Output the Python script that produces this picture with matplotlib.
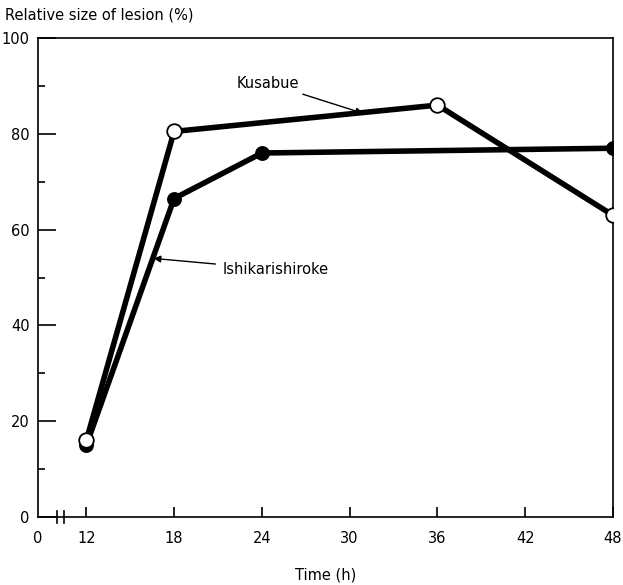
import matplotlib.pyplot as plt
from matplotlib.ticker import FixedLocator

plt.rcParams["font.family"] = ["DejaVu Sans"]

# lesion size over time for the two cultivars
kusabue_hours = [12, 18, 36, 48]
kusabue_size = [16, 80.5, 86, 63]
ishikari_hours = [12, 18, 24, 48]
ishikari_size = [15, 66.5, 76, 77]

x_ticks = [12, 18, 24, 30, 36, 42, 48]
y_major = [0, 20, 40, 60, 80, 100]
y_minor = [10, 30, 50, 70, 90]

# the axis is broken between 0 and 12, so "0" sits just left of 12
X_ZERO = 8.7

fig = plt.figure(figsize=(6.23, 5.85), dpi=100)
ax = fig.add_axes([0.061, 0.116, 0.923, 0.819])

ax.plot(ishikari_hours, ishikari_size, color="black", lw=4, solid_capstyle="round",
        marker="o", ms=9.5, mfc="black", mec="black", mew=1.2, zorder=3)
ax.plot(kusabue_hours, kusabue_size, color="black", lw=4, solid_capstyle="round",
        marker="o", ms=10.5, mfc="white", mec="black", mew=1.3, zorder=4)

ax.set_xlim(X_ZERO, 48)
ax.set_ylim(0, 100)

ax.set_xticks([X_ZERO] + x_ticks)
ax.set_xticklabels(["0"] + [str(t) for t in x_ticks], fontsize=10.5)
ax.set_yticks(y_major)
ax.set_yticklabels(["0"] + [str(t) for t in y_major[1:]], fontsize=10.5)
ax.yaxis.set_minor_locator(FixedLocator(y_minor))

ax.tick_params(axis="x", direction="in", length=7, width=1.2, pad=10)
ax.tick_params(axis="y", which="major", direction="in", length=13, width=1.2, pad=6)
ax.tick_params(axis="y", which="minor", direction="in", length=5, width=1.2)
ax.tick_params(axis="x", which="both", top=False)
ax.tick_params(axis="y", which="both", right=False)
ax.xaxis.get_major_ticks()[0].tick1line.set_visible(False)

for side in ax.spines.values():
    side.set_linewidth(1.2)

# axis break marks
for bx in (10.0, 10.45):
    ax.plot([bx, bx], [-1.3, 1.3], color="black", lw=1.2, clip_on=False, zorder=5)

ax.annotate("Kusabue", xy=(30.9, 84.3), xytext=(24.4, 90.6), fontsize=10.5,
            ha="center", va="center",
            arrowprops=dict(arrowstyle="-|>", color="black", lw=1.0, mutation_scale=10,
                            shrinkA=2, shrinkB=0))
ax.annotate("Ishikarishiroke", xy=(16.6, 54.0), xytext=(21.3, 51.7), fontsize=10.5,
            ha="left", va="center",
            arrowprops=dict(arrowstyle="-|>", color="black", lw=1.0, mutation_scale=10,
                            shrinkA=3, shrinkB=0))

fig.text(0.008, 0.975, "Relative size of lesion (%)", fontsize=10.5, ha="left", va="center")
fig.text(0.522, 0.017, "Time (h)", fontsize=10.5, ha="center", va="center")

fig.savefig("out.png", dpi=100)
